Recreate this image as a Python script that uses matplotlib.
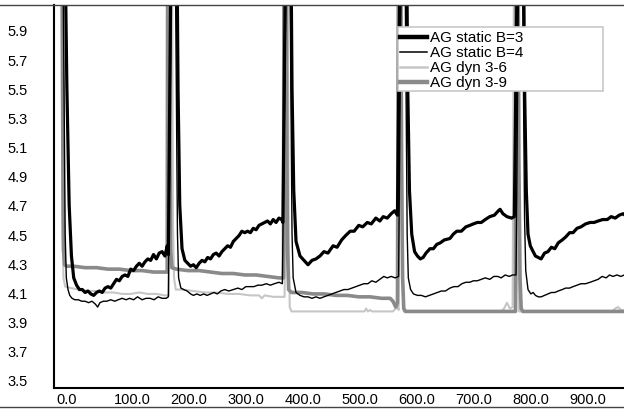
import matplotlib
matplotlib.use("Agg")
import matplotlib.pyplot as plt
from matplotlib.lines import Line2D
from matplotlib.patches import Rectangle

plt.rcParams['font.family'] = ['Liberation Sans', 'DejaVu Sans']

# ---------------- data ----------------
x_ticks = [0, 100, 200, 300, 400, 500, 600, 700, 800, 900]
x_tick_labels = ["0.0", "100.0", "200.0", "300.0", "400.0", "500.0",
                 "600.0", "700.0", "800.0", "900.0"]
y_ticks = [3.5, 3.7, 3.9, 4.1, 4.3, 4.5, 4.7, 4.9, 5.1, 5.3, 5.5, 5.7, 5.9]
y_tick_labels = ["3.5", "3.7", "3.9", "4.1", "4.3", "4.5", "4.7", "4.9",
                 "5.1", "5.3", "5.5", "5.7", "5.9"]

series_names = ["AG static B=3", "AG static B=4", "AG dyn 3-6", "AG dyn 3-9"]

# AG static B=3
b3_x = [13, 18, 22, 26, 30, 35, 40, 45, 50, 55, 60, 65, 70, 75, 80, 85, 90, 95,
        100, 105, 110, 115, 120, 125, 130, 135, 140, 145, 150, 155, 160, 165,
        170, 175, 180, 185, 190, 194, 196, 202,
        210, 213, 216, 220, 225, 230, 235, 240, 245, 250, 255, 260, 265, 270,
        275, 280, 285, 290, 295, 300, 305, 310, 315, 320, 325, 330, 335, 340,
        345, 350, 355, 360, 365, 370, 375, 380, 385, 390, 395, 397, 403,
        410, 413, 416, 420, 427, 434, 441, 448, 455, 462, 469, 476, 485, 492,
        500, 507, 515, 522, 530, 537, 545, 552, 560, 567, 573, 580, 587, 593,
        598, 604,
        613, 616, 619, 623, 628, 633, 638, 643, 648, 655, 661, 667, 673, 680,
        690, 696, 702, 710, 718, 725, 731, 738, 745, 752, 760, 768, 775, 778,
        783, 790, 798, 803, 810,
        818, 821, 824, 827, 831, 836, 840, 845, 850, 856, 862, 868, 874, 880,
        887, 893, 900, 906, 913, 920, 928, 936, 943, 950, 958, 966, 973, 980,
        987, 994, 1000]
b3_y = [7.0, 5.5, 4.7, 4.35, 4.2, 4.15, 4.12, 4.12, 4.10, 4.11, 4.09, 4.08,
        4.10, 4.11, 4.10, 4.13, 4.14, 4.13, 4.16, 4.19, 4.18, 4.21, 4.22, 4.21,
        4.26, 4.25, 4.28, 4.30, 4.28, 4.31, 4.33, 4.32, 4.36, 4.33, 4.37, 4.38,
        4.35, 4.42, 4.36, 7.0,
        7.0, 5.5, 4.7, 4.4, 4.32, 4.30, 4.28, 4.29, 4.27, 4.30, 4.32, 4.31,
        4.34, 4.33, 4.36, 4.37, 4.35, 4.38, 4.40, 4.42, 4.41, 4.45, 4.47, 4.49,
        4.52, 4.51, 4.52, 4.51, 4.54, 4.53, 4.56, 4.57, 4.58, 4.59, 4.57, 4.60,
        4.58, 4.61, 4.60, 4.58, 7.0,
        7.0, 5.5, 4.8, 4.45, 4.35, 4.32, 4.29, 4.32, 4.33, 4.35, 4.38, 4.37,
        4.42, 4.41, 4.46, 4.49, 4.52, 4.52, 4.56, 4.55, 4.58, 4.57, 4.61, 4.59,
        4.62, 4.61, 4.64, 4.66, 4.63, 7.0,
        7.0, 5.5, 4.8, 4.5, 4.38, 4.35, 4.33, 4.34, 4.37, 4.40, 4.40, 4.43,
        4.44, 4.46, 4.47, 4.50, 4.52, 4.52, 4.55, 4.56, 4.57, 4.58, 4.58, 4.60,
        4.62, 4.63, 4.66, 4.67, 4.64, 4.62, 4.61, 4.62, 7.0,
        7.0, 5.5, 4.8, 4.5, 4.42, 4.38, 4.35, 4.34, 4.33, 4.37, 4.38, 4.41,
        4.40, 4.44, 4.46, 4.48, 4.51, 4.51, 4.54, 4.55, 4.57, 4.58, 4.58, 4.59,
        4.60, 4.60, 4.62, 4.61, 4.63, 4.64, 4.62]

# AG static B=4
b4_x = [10, 13, 15, 17, 20, 23, 27, 32, 38, 44, 50, 56, 62, 68, 72, 76, 82, 88,
        95, 102, 108, 115, 122, 128, 135, 142, 150, 157, 164, 171, 178, 185,
        192, 196, 203,
        207, 210, 212, 214, 218, 223, 229, 235, 240, 246, 252, 258, 264, 270,
        276, 282, 288, 295, 302, 310, 318, 325, 332, 339, 346, 353, 360, 368,
        375, 382, 390, 396, 405,
        408, 411, 413, 415, 420, 427, 434, 441, 448, 455, 462, 469, 476, 483,
        490, 497, 504, 511, 518, 525, 532, 539, 546, 553, 560, 567, 574, 580,
        587, 594, 600, 606,
        610, 613, 615, 617, 621, 626, 633, 640, 647, 654, 661, 668, 675, 682,
        690, 697, 704, 711, 718, 725, 731, 738, 745, 752, 760, 767, 774, 780,
        787, 794, 800, 806, 812,
        816, 819, 821, 823, 827, 832, 836, 840, 845, 850, 856, 862, 868, 874,
        880, 887, 893, 900, 906, 913, 920, 928, 936, 943, 950, 957, 964, 970,
        976, 983, 990, 996]
b4_y = [7.0, 5.5, 4.5, 4.2, 4.12, 4.08, 4.06, 4.05, 4.05, 4.04, 4.04, 4.03,
        4.04, 4.02, 4.00, 4.03, 4.04, 4.04, 4.05, 4.04, 4.05, 4.06, 4.05, 4.06,
        4.05, 4.07, 4.05, 4.06, 4.06, 4.05, 4.07, 4.06, 4.06, 4.07, 7.0,
        7.0, 5.5, 4.5, 4.2, 4.13, 4.12, 4.11, 4.09, 4.08, 4.09, 4.08, 4.09,
        4.08, 4.09, 4.10, 4.09, 4.11, 4.12, 4.11, 4.12, 4.13, 4.12, 4.14, 4.14,
        4.14, 4.15, 4.15, 4.16, 4.15, 4.16, 4.17, 4.16, 7.0,
        7.0, 5.5, 4.5, 4.2, 4.10, 4.08, 4.07, 4.07, 4.06, 4.07, 4.06, 4.07,
        4.08, 4.09, 4.10, 4.11, 4.12, 4.12, 4.13, 4.14, 4.15, 4.16, 4.16, 4.18,
        4.17, 4.19, 4.21, 4.20, 4.21, 4.20, 4.21, 7.0,
        7.0, 5.5, 4.5, 4.2, 4.12, 4.09, 4.08, 4.08, 4.07, 4.08, 4.09, 4.10,
        4.11, 4.11, 4.13, 4.14, 4.14, 4.16, 4.17, 4.17, 4.18, 4.18, 4.19, 4.20,
        4.19, 4.21, 4.21, 4.20, 4.22, 4.21, 4.22, 4.22, 7.0,
        7.0, 5.5, 4.6, 4.25, 4.12, 4.09, 4.10, 4.08, 4.07, 4.07, 4.08, 4.09,
        4.10, 4.10, 4.11, 4.12, 4.13, 4.13, 4.14, 4.15, 4.16, 4.16, 4.17, 4.18,
        4.19, 4.21, 4.20, 4.22, 4.21, 4.22, 4.21, 4.22]

# AG dyn 3-6
d36_x = [8, 10, 12, 15, 25, 40, 55, 70, 85, 100, 115, 130, 145, 160, 175, 190,
         197, 200,
         202, 204, 206, 209, 220, 240, 260, 280, 300, 320, 340, 355, 360, 365,
         380, 395, 400, 403,
         405, 407, 409, 412, 540, 543, 546, 550, 553, 590, 595, 598, 600, 603,
         605, 607, 609, 780, 785, 790, 795, 800, 803,
         807, 809, 811, 975, 980, 985, 990, 1000]
d36_y = [7.0, 4.6, 4.2, 4.14, 4.13, 4.12, 4.11, 4.11, 4.10, 4.10, 4.09, 4.09,
         4.10, 4.09, 4.09, 4.08, 4.08, 7.0,
         7.0, 4.6, 4.2, 4.12, 4.12, 4.11, 4.10, 4.10, 4.09, 4.09, 4.08, 4.08,
         4.06, 4.08, 4.07, 4.07, 4.07, 7.0,
         7.0, 4.5, 4.0, 3.97, 3.97, 3.99, 3.97, 3.98, 3.97, 3.97, 3.99, 4.01,
         3.98, 7.0,
         7.0, 4.3, 3.97, 3.97, 3.99, 4.03, 3.99, 4.00, 7.0,
         7.0, 4.3, 3.97, 3.97, 3.99, 4.00, 3.98, 3.97]

# AG dyn 3-9
d39_x = [9, 11, 12, 14, 18, 30, 50, 70, 90, 110, 130, 150, 170, 190, 194, 195,
         198, 199, 200, 202, 210, 230, 250, 270, 290, 310, 330, 350, 370, 390,
         398, 399,
         402, 404, 405, 407, 412, 430, 450, 470, 490, 510, 530, 550, 570, 585,
         590, 595, 598, 600,
         603, 605, 607, 609, 612, 805, 806,
         809, 811, 813, 815, 818, 1000]
d39_y = [7.0, 5.0, 4.4, 4.29, 4.28, 4.28, 4.27, 4.27, 4.26, 4.26, 4.25, 4.25,
         4.24, 4.24, 4.24, 7.0,
         7.0, 5.0, 4.4, 4.27, 4.26, 4.25, 4.25, 4.24, 4.23, 4.23, 4.22, 4.22,
         4.21, 4.20, 4.20, 7.0,
         7.0, 5.0, 4.4, 4.12, 4.10, 4.10, 4.09, 4.09, 4.08, 4.08, 4.07, 4.07,
         4.06, 4.06, 4.04, 4.00, 4.03, 7.0,
         7.0, 5.0, 4.2, 3.99, 3.97, 3.97, 7.0,
         7.0, 5.0, 4.2, 3.99, 3.97, 3.97]

# ---------------- figure ----------------
W, H = 624, 410
fig = plt.figure(figsize=(W / 100, H / 100), dpi=100)
ax = fig.add_axes([54 / W, (H - 389) / H, (W - 54) / W, (389 - 6) / H])

c_b3, c_b4, c_d36, c_d39 = "#000000", "#000000", "#c6c6c6", "#8a8a8a"
lw_b3, lw_b4, lw_d36, lw_d39 = 2.3, 1.0, 1.5, 2.6

ax.plot(d36_x, d36_y, color=c_d36, lw=lw_d36, solid_joinstyle='round', zorder=2)
ax.plot(d39_x, d39_y, color=c_d39, lw=lw_d39, solid_joinstyle='round', zorder=3)
ax.plot(b4_x, b4_y, color=c_b4, lw=lw_b4, solid_joinstyle='round', zorder=4)
ax.plot(b3_x, b3_y, color=c_b3, lw=lw_b3, solid_joinstyle='round', zorder=5)

ax.set_xlim(-4.6, 995.4)
ax.set_ylim(3.445, 6.071)

ax.set_xticks(x_ticks)
ax.set_xticklabels(x_tick_labels, ha='left', fontsize=10.5)
ax.set_yticks(y_ticks)
ax.set_yticklabels(y_tick_labels, fontsize=10.5)
ax.tick_params(axis='both', length=0)
ax.tick_params(axis='x', pad=3)
ax.tick_params(axis='y', pad=19)

for s in ['top', 'right']:
    ax.spines[s].set_visible(False)
ax.spines['left'].set_linewidth(1.5)
ax.spines['bottom'].set_linewidth(1.5)

# figure frame lines (top and bottom)
fig.add_artist(Line2D([0, 1], [(H - 6) / H, (H - 6) / H],
                      transform=fig.transFigure, color="#444444", lw=1.0))
fig.add_artist(Line2D([0, 1], [(H - 408) / H, (H - 408) / H],
                      transform=fig.transFigure, color="#444444", lw=1.0))

# legend (opaque box with light grey border)
lx0, ly0, lx1, ly1 = 398, 28, 603, 92
fig.add_artist(Rectangle((lx0 / W, (H - ly1) / H), (lx1 - lx0) / W,
                         (ly1 - ly0) / H, transform=fig.transFigure,
                         facecolor='white', edgecolor='#c8c8c8', lw=1.2,
                         zorder=10))
rows = [38, 53, 68, 83]
cols = [c_b3, c_b4, c_d36, c_d39]
lws = [3.2, 1.1, 1.8, 3.2]
for name, py, c, lw in zip(series_names, rows, cols, lws):
    fig.add_artist(Line2D([400 / W, 427 / W], [(H - py) / H, (H - py) / H],
                          transform=fig.transFigure, color=c, lw=lw,
                          zorder=11))
    fig.text(430 / W, (H - py) / H, name, fontsize=11, va='center',
             ha='left', zorder=12)

fig.savefig("out.png", dpi=100)
